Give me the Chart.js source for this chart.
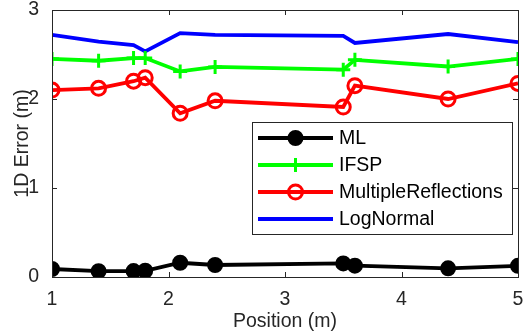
<!DOCTYPE html>
<html lang="en">
<head>
  <meta charset="UTF-8" />
  <title>1D Error by Position</title>
  <script src="https://cdn.jsdelivr.net/npm/chart.js"></script>
  <style>
    html, body { margin: 0; padding: 0; background: #fff; }
    #wrap { width: 529px; height: 334px; position: relative; }
  </style>
</head>
<body>
  <div id="wrap"><canvas id="errChart" width="529" height="334"></canvas></div>

  <script>
    // positions (m) where each method was measured
    const positions = [1, 1.4, 1.7, 1.8, 2.1, 2.4, 3.5, 3.6, 4.4, 5];

    const mlErr        = [0.09, 0.065, 0.067, 0.07, 0.16, 0.135, 0.153, 0.127, 0.097, 0.126];
    const ifspErr      = [2.45, 2.43, 2.46, 2.46, 2.31, 2.36, 2.33, 2.44, 2.365, 2.45];
    const multiReflErr = [2.10, 2.12, 2.20, 2.24, 1.84, 1.98, 1.91, 2.15, 2.00, 2.175];
    const logNormalErr = [2.72, 2.645, 2.605, 2.535, 2.74, 2.72, 2.71, 2.63, 2.73, 2.64];

    const xTicks = [1, 2, 3, 4, 5];
    const yTicks = [0, 1, 2, 3];

    const FONT = 'Helvetica, "Liberation Sans", Arial, sans-serif';
    const FSIZE = 19.5;
    const AXIS = '#262626';

    const toXY = vals => vals.map((v, i) => ({ x: positions[i], y: v }));

    function series(label, vals, color, style, radius, fill) {
      return {
        label,
        data: toXY(vals),
        borderColor: color,
        backgroundColor: fill,
        borderWidth: 3.8,
        pointStyle: style,
        pointRadius: radius,
        pointHoverRadius: radius,
        pointBorderWidth: 3,
        pointBorderColor: color,
        pointBackgroundColor: fill,
        tension: 0
      };
    }

    // box around the axes plus inward MATLAB-style ticks
    const frame = {
      id: 'frame',
      afterDatasetsDraw(chart) {
        const { ctx, chartArea: a, scales: { x, y } } = chart;
        ctx.save();
        ctx.strokeStyle = AXIS;
        ctx.lineWidth = 1;
        ctx.strokeRect(a.left + 0.5, a.top + 0.5, a.right - a.left, a.bottom - a.top);
        ctx.beginPath();
        xTicks.forEach(t => {
          const px = Math.round(x.getPixelForValue(t)) + 0.5;
          ctx.moveTo(px, a.bottom); ctx.lineTo(px, a.bottom - 5);
          ctx.moveTo(px, a.top); ctx.lineTo(px, a.top + 5);
        });
        yTicks.forEach(t => {
          const py = Math.round(y.getPixelForValue(t)) + 0.5;
          ctx.moveTo(a.left, py); ctx.lineTo(a.left + 5, py);
          ctx.moveTo(a.right, py); ctx.lineTo(a.right - 5, py);
        });
        ctx.stroke();
        ctx.restore();
      }
    };

    // legend box drawn inside the plot area
    const boxLegend = {
      id: 'boxLegend',
      afterDraw(chart) {
        const { ctx } = chart;
        const bx = 252, by = 122, bw = 260, bh = 112;
        ctx.save();
        ctx.fillStyle = '#fff';
        ctx.fillRect(bx, by, bw, bh);
        ctx.strokeStyle = AXIS;
        ctx.lineWidth = 1;
        ctx.strokeRect(bx + 0.5, by + 0.5, bw, bh);
        ctx.font = FSIZE + 'px ' + FONT;
        ctx.textBaseline = 'middle';
        chart.data.datasets.forEach((ds, i) => {
          const cy = by + 16 + i * 27;
          const x0 = bx + 6, x1 = bx + 81, mx = (x0 + x1) / 2;
          ctx.strokeStyle = ds.borderColor;
          ctx.lineWidth = ds.borderWidth;
          ctx.beginPath(); ctx.moveTo(x0, cy); ctx.lineTo(x1, cy); ctx.stroke();
          if (ds.pointStyle) {
            ctx.fillStyle = ds.pointBackgroundColor;
            ctx.strokeStyle = ds.pointBorderColor;
            ctx.lineWidth = ds.pointBorderWidth;
            ctx.beginPath();
            if (ds.pointStyle === 'circle') {
              ctx.arc(mx, cy, ds.pointRadius, 0, Math.PI * 2);
              if (ds.pointBackgroundColor !== 'rgba(0,0,0,0)') ctx.fill();
              ctx.stroke();
            } else {
              ctx.moveTo(mx - ds.pointRadius, cy); ctx.lineTo(mx + ds.pointRadius, cy);
              ctx.moveTo(mx, cy - ds.pointRadius); ctx.lineTo(mx, cy + ds.pointRadius);
              ctx.stroke();
            }
          }
          ctx.fillStyle = '#000';
          ctx.fillText(ds.label, bx + 87, cy + 1);
        });
        ctx.restore();
      }
    };

    new Chart(document.getElementById('errChart'), {
      type: 'line',
      data: {
        datasets: [
          series('ML', mlErr, '#000000', 'circle', 6.5, '#000000'),
          series('IFSP', ifspErr, '#00ff00', 'cross', 7, '#00ff00'),
          series('MultipleReflections', multiReflErr, '#ff0000', 'circle', 7, 'rgba(0,0,0,0)'),
          series('LogNormal', logNormalErr, '#0000ff', false, 0, '#0000ff')
        ]
      },
      options: {
        responsive: false,
        animation: false,
        devicePixelRatio: 1,
        layout: { padding: { left: 0, top: 9, right: 11, bottom: 0 } },
        plugins: { legend: { display: false }, tooltip: { enabled: false } },
        scales: {
          x: {
            type: 'linear',
            min: 1, max: 5,
            afterBuildTicks: s => { s.ticks = xTicks.map(v => ({ value: v })); },
            afterFit: s => { s.height = 57; s.paddingLeft = 0; s.paddingRight = 0; },
            grid: { display: false },
            border: { color: AXIS },
            ticks: { color: AXIS, font: { size: FSIZE, family: FONT }, padding: 3 },
            title: { display: true, text: 'Position (m)', color: AXIS, font: { size: FSIZE, family: FONT }, padding: { top: 0, bottom: 1 } }
          },
          y: {
            min: 0, max: 3,
            afterBuildTicks: s => { s.ticks = yTicks.map(v => ({ value: v })); },
            afterFit: s => { s.width = 52; s.paddingTop = 0; s.paddingBottom = 0; },
            grid: { display: false },
            border: { color: AXIS },
            ticks: { color: AXIS, font: { size: FSIZE, family: FONT }, padding: 5 },
            title: { display: true, text: '1D Error (m)', color: AXIS, font: { size: FSIZE, family: FONT }, padding: { top: 11, bottom: 0 } }
          }
        }
      },
      plugins: [frame, boxLegend]
    });
  </script>
</body>
</html>
